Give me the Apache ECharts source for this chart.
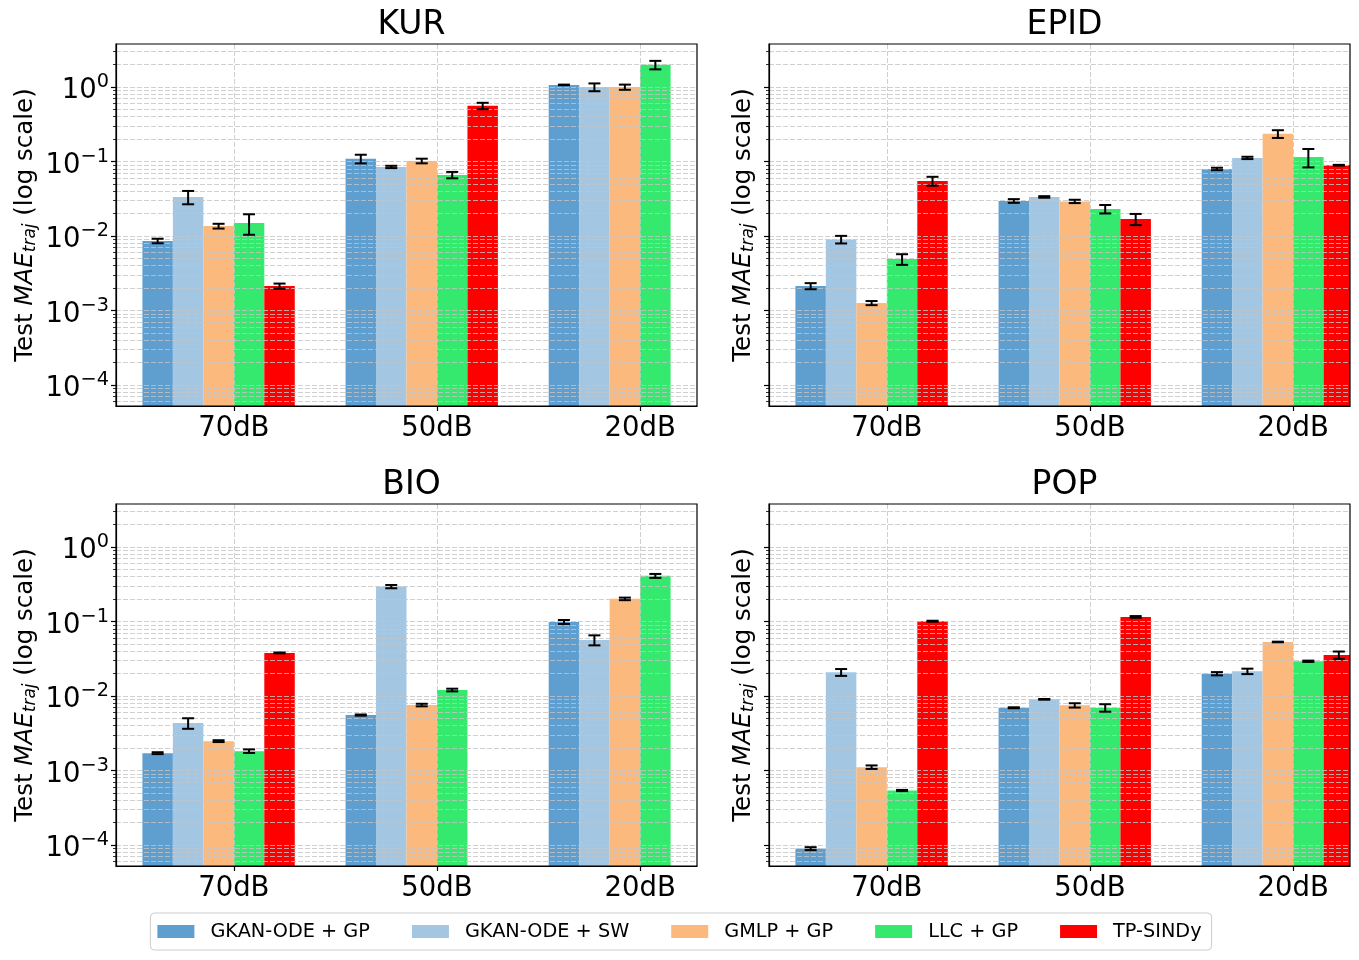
<!DOCTYPE html>
<html>
<head>
<meta charset="utf-8">
<script src="https://cdn.jsdelivr.net/npm/echarts@6/dist/echarts.min.js"></script>
<style>
html,body{margin:0;padding:0;background:#fff;}
#chart{width:1359px;height:960px;}
</style>
</head>
<body>
<div id="chart"></div>
<script>
// ---------- data ----------
const categories = ['70dB', '50dB', '20dB'];
const methods = ['GKAN-ODE + GP', 'GKAN-ODE + SW', 'GMLP + GP', 'LLC + GP', 'TP-SINDy'];
const panelTitles = ['KUR', 'EPID', 'BIO', 'POP'];
const methodColors = ['#5f9fd0', '#a3c6e2', '#fcb97e', '#35e96e', '#ff0000'];
const yTickValues = [1e-4, 1e-3, 1e-2, 1e-1, 1];

// rows = methods, columns = categories (70dB, 50dB, 20dB)
const kurValues = [
  [8.6e-3, 0.109, 1.07],
  [0.0335, 0.0847, 1.0],
  [0.0136, 0.102, 1.0],
  [0.0150, 0.0661, 1.99],
  [2.13e-3, 0.560, null]
];
const kurErrors = [
  [6e-4, 0.0145, 0.01],
  [0.0068, 0.003, 0.12],
  [0.001, 0.0073, 0.08],
  [0.0046, 0.0065, 0.26],
  [1.7e-4, 0.055, null]
];
const epidValues = [
  [2.13e-3, 0.0296, 0.0796],
  [9.0e-3, 0.0335, 0.112],
  [1.26e-3, 0.0292, 0.2355],
  [4.9e-3, 0.0231, 0.1155],
  [0.0549, 0.0169, 0.0893]
];
const epidErrors = [
  [2e-4, 0.0017, 0.003],
  [1.05e-3, 0.0008, 0.004],
  [8e-5, 0.0015, 0.028],
  [8e-4, 0.003, 0.032],
  [0.0075, 0.0029, 0.001]
];
const bioValues = [
  [1.71e-3, 5.55e-3, 0.0989],
  [4.33e-3, 0.295, 0.0566],
  [2.48e-3, 7.57e-3, 0.2017],
  [1.82e-3, 0.01205, 0.411],
  [0.0379, null, null]
];
const bioErrors = [
  [5e-5, 1e-4, 0.006],
  [7e-4, 0.015, 0.0087],
  [7e-5, 3e-4, 0.008],
  [1e-4, 5e-4, 0.025],
  [5e-4, null, null]
];
const popValues = [
  [8.94e-5, 6.96e-3, 0.01995],
  [0.02084, 9.03e-3, 0.0215],
  [1.11e-3, 7.50e-3, 0.0532],
  [5.39e-4, 6.96e-3, 0.0293],
  [0.1011, 0.1155, 0.0356]
];
const popErrors = [
  [4e-6, 1e-4, 0.001],
  [0.0022, 1e-4, 0.0018],
  [6e-5, 5e-4, 5e-4],
  [1e-5, 8e-4, 6e-4],
  [1.5e-3, 0.003, 0.004]
];
const panelValues = [kurValues, epidValues, bioValues, popValues];
const panelErrors = [kurErrors, epidErrors, bioErrors, popErrors];

// ---------- layout ----------
const BW = 0.15;
const grids = [
  {left: 116, top: 44, width: 581, height: 362},
  {left: 769, top: 44, width: 581, height: 362},
  {left: 116, top: 504, width: 581, height: 362},
  {left: 769, top: 504, width: 581, height: 362}
];
const FONT = 'DejaVu Sans';
const gridLineStyle = {color: '#c4c4c4', width: 0.8, type: [5, 2]};

function supLabel(v) {
  const k = Math.round(Math.log10(v));
  const s = k < 0 ? '\u2212' + (-k) : String(k);
  return '{b|10}{s|' + s + '}';
}

const option = {
  backgroundColor: '#fff',
  animation: false,
  title: grids.map((g, i) => ({
    text: panelTitles[i],
    left: g.left + g.width / 2,
    top: g.top - 44 + 4,
    textAlign: 'center',
    textStyle: {fontFamily: FONT, fontSize: 33, fontWeight: 'normal', color: '#000'}
  })),
  legend: {
    data: methods,
    left: 'center',
    top: 913,
    icon: 'rect',
    itemWidth: 37,
    itemHeight: 13,
    itemGap: 42,
    padding: [9, 10, 9, 7],
    borderColor: '#cccccc',
    borderWidth: 1,
    borderRadius: 4,
    textStyle: {fontFamily: FONT, fontSize: 19.3, color: '#000', padding: [0, 0, 0, 11]}
  },
  grid: grids.map(g => Object.assign({}, g, {show: true, borderColor: '#000', borderWidth: 1.2, z: 4, backgroundColor: 'transparent'})),
  xAxis: grids.map((g, i) => ({
    type: 'value',
    gridIndex: i,
    min: -0.58,
    max: 2.28,
    z: 3,
    axisLine: {show: true, onZero: false, lineStyle: {color: '#000', width: 1.2}},
    axisTick: {show: true, length: 5, lineStyle: {color: '#000', width: 1.2}, customValues: [0, 1, 2]},
    axisLabel: {
      customValues: [0, 1, 2],
      formatter: v => categories[Math.round(v)],
      fontFamily: FONT, fontSize: 27.5, color: '#000', margin: 9
    },
    splitLine: {show: true, lineStyle: gridLineStyle}
  })),
  yAxis: grids.map((g, i) => ({
    type: 'log',
    logBase: 10,
    gridIndex: i,
    min: 5.22e-5,
    max: 3.79,
    z: 3,
    name: '{n|Test }{i|MAE}{sub|traj}{n| (log scale)}',
    nameLocation: 'middle',
    nameRotate: 90,
    nameGap: (i % 2 === 0) ? 77 : 12,
    nameTextStyle: {
      fontFamily: FONT, color: '#000',
      rich: {
        n: {fontFamily: FONT, fontSize: 24.5, color: '#000'},
        i: {fontFamily: FONT, fontSize: 24.5, fontStyle: 'italic', color: '#000'},
        sub: {fontFamily: FONT, fontSize: 17, fontStyle: 'italic', color: '#000', padding: [10, 0, 0, 0]}
      }
    },
    axisLine: {show: true, onZero: false, lineStyle: {color: '#000', width: 1.2}},
    axisTick: {show: true, length: 5, lineStyle: {color: '#000', width: 1.2}, customValues: yTickValues},
    minorTick: {show: true, splitNumber: 9, length: 3, lineStyle: {color: '#000', width: 0.8}},
    axisLabel: {
      show: i % 2 === 0,
      customValues: yTickValues,
      formatter: supLabel,
      margin: 7,
      padding: [8, 0, 0, 0],
      rich: {
        b: {fontFamily: FONT, fontSize: 27.5, color: '#000'},
        s: {fontFamily: FONT, fontSize: 19.3, color: '#000', padding: [0, 0, 18, 0]}
      }
    },
    splitLine: {show: true, lineStyle: gridLineStyle},
    minorSplitLine: {show: true, lineStyle: gridLineStyle}
  })),
  series: []
};

function barRender(params, api) {
  const xc = api.value(0), v = api.value(1);
  const cs = params.coordSys;
  const pL = api.coord([xc - BW / 2, v]);
  const pR = api.coord([xc + BW / 2, v]);
  const bottom = cs.y + cs.height;
  return {
    type: 'rect',
    shape: {x: pL[0], y: pL[1], width: pR[0] - pL[0], height: bottom - pL[1]},
    style: {fill: api.visual('color')}
  };
}

function errRender(params, api) {
  const xc = api.value(0), v = api.value(1), e = api.value(2);
  const hi = api.coord([xc, v + e]);
  const lo = api.coord([xc, v - e]);
  const cap = 6;
  const st = {stroke: '#000', lineWidth: 2};
  return {
    type: 'group',
    children: [
      {type: 'line', shape: {x1: hi[0], y1: hi[1], x2: lo[0], y2: lo[1]}, style: st},
      {type: 'line', shape: {x1: hi[0] - cap, y1: hi[1], x2: hi[0] + cap, y2: hi[1]}, style: st},
      {type: 'line', shape: {x1: lo[0] - cap, y1: lo[1], x2: lo[0] + cap, y2: lo[1]}, style: st}
    ]
  };
}

panelValues.forEach((vals, p) => {
  methods.forEach((m, mi) => {
    const barData = [];
    const errData = [];
    categories.forEach((c, ci) => {
      const v = vals[mi][ci];
      if (v == null) return;
      const xc = ci + (mi - 2.5) * BW;
      barData.push([xc, v]);
      const e = panelErrors[p][mi][ci];
      if (e) errData.push([xc, v, e]);
    });
    option.series.push({
      type: 'custom',
      name: m,
      xAxisIndex: p,
      yAxisIndex: p,
      z: 1,
      clip: true,
      itemStyle: {color: methodColors[mi]},
      encode: {x: 0, y: 1},
      renderItem: barRender,
      data: barData
    });
    option.series.push({
      type: 'custom',
      name: m + ' err',
      xAxisIndex: p,
      yAxisIndex: p,
      z: 5,
      itemStyle: {color: '#000'},
      encode: {x: 0, y: 1},
      renderItem: errRender,
      data: errData
    });
  });
});

const chart = echarts.init(document.getElementById('chart'), null, {renderer: 'canvas'});
chart.setOption(option);
</script>
</body>
</html>
